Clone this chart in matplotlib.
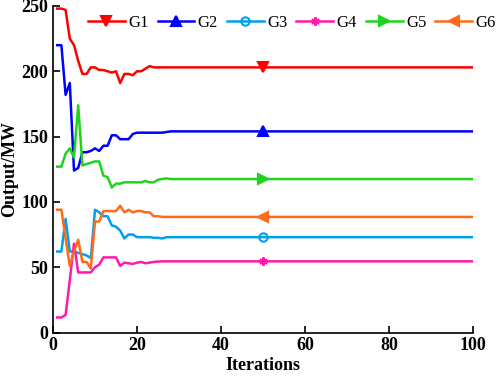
import matplotlib
matplotlib.use("Agg")
import matplotlib.pyplot as plt
import numpy as np

iterations = list(range(1, 101))

g1_head = [248, 248, 247, 225, 220, 208, 198, 198, 203, 203, 201, 201, 200, 199, 200, 191,
           198, 198, 197, 200, 200, 202, 204, 203]
g2_head = [220, 220, 182, 191, 124, 126, 138, 138, 139, 141, 139, 143, 143, 151, 151, 148,
           148, 148, 152, 153, 153, 153, 153, 153, 153, 153, 153.5]
g3_head = [62, 62, 87, 62, 62, 61, 60, 59, 57, 94, 92, 89, 89, 82, 81, 78, 72, 75, 75, 73,
           73, 73, 73, 72.5, 72.5, 72, 73]
g4_head = [11.5, 11.5, 13.5, 40, 68, 46, 46, 46, 46, 50, 52, 57.5, 57.5, 57.5, 57.5, 51,
           53.5, 53, 52.5, 53.5, 54, 53, 53.5, 54, 54.3]
g5_head = [127, 127, 137, 141, 134, 174, 128, 129, 130, 131, 131, 120, 119, 111, 114, 114,
           115, 115, 115, 115, 115, 116, 115, 115, 117, 117.5, 118]
g6_head = [94, 94, 72, 51, 62, 71, 54, 54, 49, 85, 85, 93, 93, 93, 93, 97, 92, 94, 92, 93,
           93, 92, 92, 89, 89, 88.5]

g1_final, g2_final, g3_final = 203, 154, 73
g4_final, g5_final, g6_final = 54.5, 117.5, 88.5

def full(head, final):
    return head + [final] * (len(iterations) - len(head))

series = [
    ("G1", full(g1_head, g1_final), "#FF0000", "v", "#FF0000", 7),
    ("G2", full(g2_head, g2_final), "#0000FF", "^", "#0000FF", 7),
    ("G3", full(g3_head, g3_final), "#00A0F0", "o", "none", 6),
    ("G4", full(g4_head, g4_final), "#FF1AAA", (6, 2, 0), "#FF1AAA", 6),
    ("G5", full(g5_head, g5_final), "#1ED41E", ">", "#1ED41E", 7),
    ("G6", full(g6_head, g6_final), "#FF6A1A", "<", "#FF6A1A", 7),
]

fig = plt.figure(figsize=(4.98, 3.78), dpi=100)
ax = fig.add_axes([53 / 498, 1 - 332.5 / 378, 420 / 498, 326.5 / 378])

for name, vals, col, mk, mfc, ms in series:
    ax.plot(iterations, vals, color=col, lw=1.8, marker=mk, markersize=ms,
            markerfacecolor=mfc, markeredgecolor=col, markeredgewidth=1.5,
            markevery=[49], label=name)

ax.set_xlim(0, 100)
ax.set_ylim(0, 250)
ax.set_xticks([0, 20, 40, 60, 80, 100])
ax.set_yticks([0, 50, 100, 150, 200, 250])
for s in ("top", "right"):
    ax.spines[s].set_visible(False)
for s in ("left", "bottom"):
    ax.spines[s].set_linewidth(1.2)
ax.tick_params(direction="in", length=5, width=1.2)

tfont = dict(family="Liberation Serif", weight="bold", size=13)
for lab in ax.get_xticklabels() + ax.get_yticklabels():
    lab.set_fontfamily("Liberation Serif")
    lab.set_fontweight("bold")
    lab.set_fontsize(13)
ax.set_xlabel("Iterations", fontdict=tfont, labelpad=2)
ax.set_ylabel("Output/MW", fontdict=tfont, labelpad=2)

leg = ax.legend(loc="center left", bbox_to_anchor=(88 / 498, 1 - 23 / 378),
                bbox_transform=fig.transFigure, ncol=6, frameon=False,
                prop=dict(family="Liberation Serif", size=12), handlelength=2.2,
                handletextpad=0.2, columnspacing=0.55, borderaxespad=0, borderpad=0)

fig.savefig("out.png", dpi=100)
